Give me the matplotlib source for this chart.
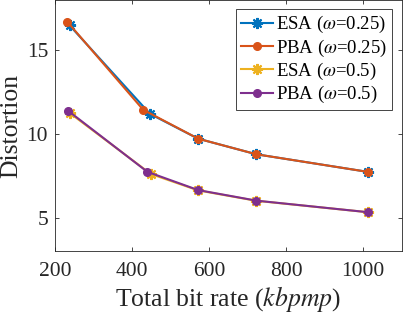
import matplotlib
matplotlib.use('Agg')
import matplotlib.pyplot as plt

plt.rcParams['font.family'] = 'Liberation Serif'
plt.rcParams['mathtext.fontset'] = 'stix'

# rate points (kbpmp) and distortion values
esa25_x = [238, 447, 572, 723, 1012]
esa25_y = [16.48, 11.19, 9.71, 8.78, 7.73]
pba25_x = [232, 429, 572, 723, 1012]
pba25_y = [16.70, 11.44, 9.71, 8.78, 7.73]
esa50_x = [238, 449, 572, 723, 1012]
esa50_y = [11.25, 7.60, 6.62, 6.00, 5.32]
pba50_x = [234, 440, 572, 723, 1012]
pba50_y = [11.38, 7.73, 6.64, 6.01, 5.32]

labels = [r'ESA ($\omega$=0.25)', r'PBA ($\omega$=0.25)',
          r'ESA ($\omega$=0.5)', r'PBA ($\omega$=0.5)']
colors = ['#0072BD', '#D95319', '#EDB120', '#7E2F8E']
asterisk = (8, 2, 0)

fig = plt.figure(figsize=(4.03, 3.13), dpi=100)
ax = fig.add_axes([55 / 403, 1 - 251 / 313, 346.5 / 403, 251 / 313])

ax.plot(esa25_x, esa25_y, '-', marker=asterisk, color=colors[0], lw=1.5, ms=8, mew=1.5, label=labels[0])
ax.plot(pba25_x, pba25_y, '-o', color=colors[1], lw=1.5, ms=5.5, label=labels[1])
ax.plot(esa50_x, esa50_y, '-', marker=asterisk, color=colors[2], lw=1.5, ms=8, mew=1.5, label=labels[2])
ax.plot(pba50_x, pba50_y, '-o', color=colors[3], lw=1.5, ms=5.5, label=labels[3])

ax.set_xlim(200, 1100)
ax.set_ylim(3, 18)
ax.set_xticks([200, 400, 600, 800, 1000])
ax.set_yticks([5, 10, 15])
ax.tick_params(direction='in', top=True, right=True, labelsize=15.5,
               colors='#262626', length=3, width=0.6)
ax.tick_params(axis='x', pad=8)
ax.tick_params(axis='y', pad=5)
for s in ax.spines.values():
    s.set_color('#262626')
    s.set_linewidth(0.6)

ax.set_xlabel(r'Total bit rate ($kbpmp$)', fontsize=18.5, color='#262626', labelpad=2)
ax.set_ylabel('Distortion', fontsize=18.5, color='#262626', labelpad=3)

leg = ax.legend(loc='upper right', fontsize=13.5, handlelength=1.7,
                handletextpad=0.2, borderpad=0.25, labelspacing=0.12,
                fancybox=False, edgecolor='#262626', framealpha=1,
                borderaxespad=0.5)
leg.get_frame().set_linewidth(0.6)

plt.savefig('out.png', dpi=100)
